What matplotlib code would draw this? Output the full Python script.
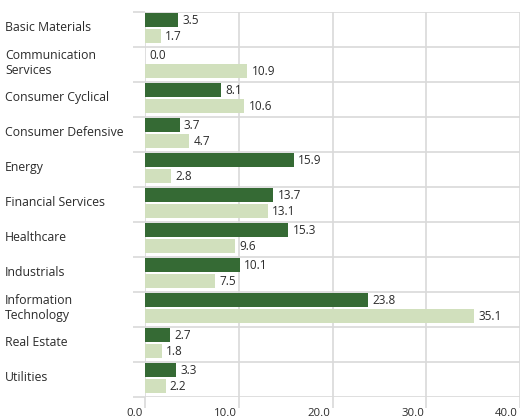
import matplotlib
matplotlib.use("Agg")
import matplotlib.pyplot as plt
from matplotlib.transforms import blended_transform_factory, offset_copy
import numpy as np

categories = ["Basic Materials", "Communication\nServices", "Consumer Cyclical",
              "Consumer Defensive", "Energy", "Financial Services", "Healthcare",
              "Industrials", "Information\nTechnology", "Real Estate", "Utilities"]
fund = [3.5, 0.0, 8.1, 3.7, 15.9, 13.7, 15.3, 10.1, 23.8, 2.7, 3.3]
bench = [1.7, 10.9, 10.6, 4.7, 2.8, 13.1, 9.6, 7.5, 35.1, 1.8, 2.2]
xticks = [0, 10, 20, 30, 40]
xticklabels = ["0.0", "10.0", "20.0", "30.0", "40.0"]

plt.rcParams['font.family'] = ['Open Sans', 'DejaVu Sans']
txt = '#2b2b2b'
grid = '#d9d9d9'
dark = '#356a34'
light = '#d1e0bd'
fs_cat = 8.8
fs_val = 8.5
fs_tick = 8.2

fig = plt.figure(figsize=(5.2, 4.18), dpi=100)
W, H = 520, 418
ax = fig.add_axes([145 / W, 21 / H, 375 / W, 385 / H])

n = len(categories)
y = np.arange(n)
ax.barh(y - 0.27, fund, height=0.4, color=dark, zorder=3)
ax.barh(y + 0.19, bench, height=0.4, color=light, zorder=3)

for i in range(n):
    ax.text(fund[i] + 0.45, y[i] - 0.27, f"{fund[i]:.1f}", va='center', ha='left',
            fontsize=fs_val, color=txt, zorder=4)
    ax.text(bench[i] + 0.45, y[i] + 0.19, f"{bench[i]:.1f}", va='center', ha='left',
            fontsize=fs_val, color=txt, zorder=4)

ax.set_xlim(0, 40)
ax.set_ylim(n - 0.5, -0.5)

ax.set_xticks(xticks)
ax.set_xticklabels([])
ax.tick_params(axis='x', length=8, width=1.2, color=grid)
ax.xaxis.grid(True, color=grid, linewidth=1.2, zorder=0)

trx = offset_copy(blended_transform_factory(ax.transData, fig.transFigure),
                  fig=fig, x=-2, y=0, units='dots')
for xv, lab in zip(xticks, xticklabels):
    ax.text(xv, 4 / H, lab, transform=trx, ha='right', va='center',
            fontsize=fs_tick, color=txt, clip_on=False)

ax.set_yticks(np.arange(n + 1) - 0.5)
ax.set_yticklabels([])
ax.tick_params(axis='y', length=9, width=1.2, color=grid)
ax.yaxis.grid(True, color=grid, linewidth=1.2, zorder=0)

tr = blended_transform_factory(fig.transFigure, ax.transData)
for i, c in enumerate(categories):
    ax.text(5 / W, i - 0.05, c, transform=tr, ha='left', va='center',
            fontsize=fs_cat, color=txt, linespacing=1.2)

for s in ax.spines.values():
    s.set_visible(False)

fig.savefig("out.png", dpi=100)
